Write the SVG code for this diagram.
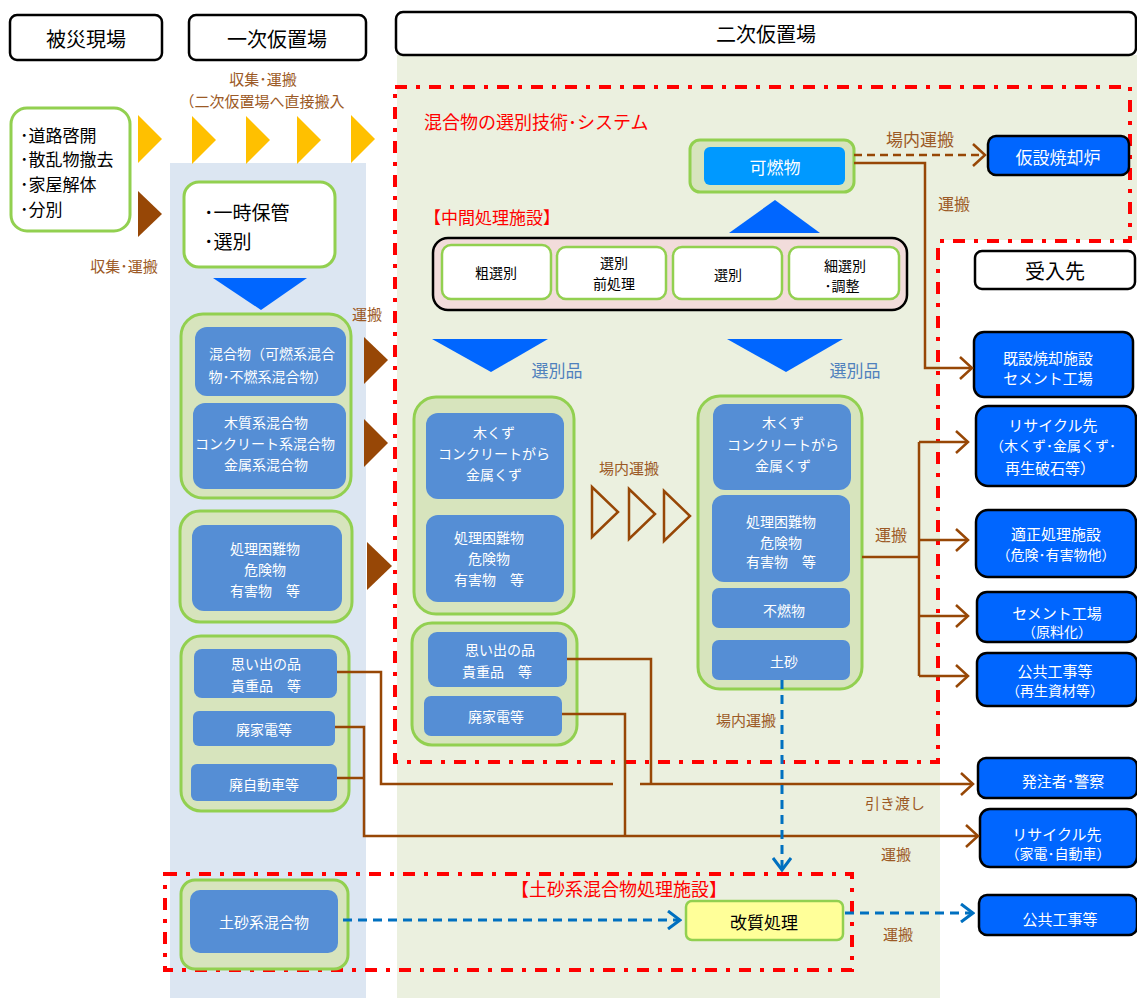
<svg xmlns="http://www.w3.org/2000/svg" width="1137" height="998" viewBox="0 0 1137 998">
<style>
text{font-family:"Noto Sans CJK JP","Noto Sans CJK SC",sans-serif;text-anchor:middle;dominant-baseline:central}
.hdr{fill:#fff;stroke:#000;stroke-width:2.5}
.grp{fill:#D7E4BD;stroke:#92D050;stroke-width:3}
.inb{fill:#558ED5}
.wt{fill:#fff;font-size:14px}
.rb{fill:#0066FF;stroke:#000;stroke-width:2.5}
.rt{fill:#fff;font-size:15px}
.br{stroke:#974706;stroke-width:2.5;fill:none}
.bt{fill:#9C5A26;font-size:15px}
.bd{stroke:#0070C0;stroke-width:3;fill:none;stroke-dasharray:9 6}
.red{stroke:#FF0000;stroke-width:4;fill:none;stroke-dasharray:12 9 4 9}
.sel{fill:#fff;stroke:#92D050;stroke-width:2.5}
.st{fill:#000;font-size:14px}
</style>
<defs>
<marker id="ab" viewBox="0 0 15 24" refX="13" refY="12" markerWidth="15" markerHeight="24" markerUnits="userSpaceOnUse" orient="auto"><path d="M1,1 L13,12 L1,23" fill="none" stroke="#974706" stroke-width="2.5"/></marker>
<marker id="abl" viewBox="0 0 15 20" refX="13" refY="10" markerWidth="15" markerHeight="20" markerUnits="userSpaceOnUse" orient="auto"><path d="M1,1 L13,10 L1,19" fill="none" stroke="#0070C0" stroke-width="3"/></marker>
</defs>
<rect width="1137" height="998" fill="#fff"/>
<!-- backgrounds -->
<rect x="170" y="163" width="196" height="835" fill="#DCE6F2"/>
<path d="M397,55 H1137 V240 H940 V998 H397 Z" fill="#EBF0DF"/>
<!-- headers -->
<g id="h1"><rect class="hdr" x="10" y="15" width="152" height="45" rx="7"/><text x="86" y="38" font-size="20">被災現場</text></g>
<g id="h2"><rect class="hdr" x="189" y="15" width="177" height="45" rx="7"/><text x="277" y="38" font-size="20">一次仮置場</text></g>
<g id="h3"><rect class="hdr" x="396" y="12" width="740" height="43" rx="7"/><text x="766" y="33" font-size="20">二次仮置場</text></g>
<g id="h4"><rect class="hdr" x="975" y="251" width="160" height="38" rx="7"/><text x="1055" y="270" font-size="20">受入先</text></g>
<!-- red frames -->
<path class="red" d="M395,87 H1130 V241 H938 V762 H395 Z"/>
<path class="red" d="M165,874 H852 V970 H165 Z"/>
<text x="424" y="121" font-size="18" fill="#FF0000" style="text-anchor:start">混合物の選別技術･システム</text>
<text x="424" y="216" font-size="17" fill="#FF0000" style="text-anchor:start">【中間処理施設】</text>
<text x="619" y="888" font-size="18" fill="#FF0000">【土砂系混合物処理施設】</text>
<!-- site box -->
<g id="site"><rect x="11" y="108" width="119" height="123" rx="16" fill="#fff" stroke="#92D050" stroke-width="3"/>
<g font-size="17"><text x="20" y="134" style="text-anchor:start">･道路啓開</text><text x="20" y="158" style="text-anchor:start">･散乱物撤去</text><text x="20" y="183" style="text-anchor:start">･家屋解体</text><text x="20" y="208" style="text-anchor:start">･分別</text></g></g>
<!-- triangles -->
<g fill="#FFC000"><path d="M138,115 L162,139 L138,163Z"/><path d="M192,116 L216,140 L192,164Z"/><path d="M246,116 L270,140 L246,164Z"/><path d="M297,116 L321,140 L297,164Z"/><path d="M351,115 L375,139 L351,163Z"/></g>
<g fill="#974706"><path d="M138,191 L162,214 L138,237Z"/><path d="M364,337 L388,360 L364,384Z"/><path d="M364,419 L388,443 L364,467Z"/><path d="M367,542 L392,566 L367,590Z"/></g>
<g fill="#0066FF"><path d="M213,278 L307,278 L261,310Z"/><path d="M729,233 L820,233 L775,200Z"/><path d="M432,339 L548,339 L491,372Z"/><path d="M727,339 L843,339 L786,372Z"/></g>
<g fill="none" stroke="#974706" stroke-width="2.5"><path d="M592,487 L618,512 L592,537Z"/><path d="M629,489 L655,514 L629,539Z"/><path d="M664,491 L690,516 L664,541Z"/></g>
<!-- brown labels -->
<text class="bt" x="263" y="78">収集･運搬</text>
<text class="bt" x="262" y="100">（二次仮置場へ直接搬入</text>
<text class="bt" x="124" y="265">収集･運搬</text>
<text class="bt" x="367" y="313">運搬</text>
<text class="bt" x="629" y="467" font-size="16">場内運搬</text>
<text class="bt" x="920" y="138" style="font-size:17px">場内運搬</text>
<text class="bt" x="954" y="203" style="font-size:16px">運搬</text>
<text class="bt" x="891" y="534" style="font-size:16px">運搬</text>
<text class="bt" x="746" y="719" style="font-size:15px">場内運搬</text>
<text class="bt" x="895" y="802">引き渡し</text>
<text class="bt" x="896" y="853">運搬</text>
<text class="bt" x="898" y="933">運搬</text>
<text x="557" y="369" font-size="17" fill="#4F81BD">選別品</text>
<text x="855" y="369" font-size="17" fill="#4F81BD">選別品</text>
<!-- primary nodes -->
<g id="tmp"><rect x="184" y="182" width="151" height="85" rx="15" fill="#fff" stroke="#92D050" stroke-width="3"/><text x="204" y="211" font-size="19" style="text-anchor:start">･一時保管</text><text x="204" y="240" font-size="19" style="text-anchor:start">･選別</text></g>
<g id="p1"><rect class="grp" x="181" y="314" width="170" height="184" rx="22"/>
<rect class="inb" x="195" y="327" width="151" height="69" rx="12"/><text class="wt" x="272" y="353">混合物（可燃系混合</text><text class="wt" x="268" y="376">物･不燃系混合物）</text>
<rect class="inb" x="193" y="403" width="153" height="86" rx="12"/><text class="wt" x="266" y="422">木質系混合物</text><text class="wt" x="265" y="443">コンクリート系混合物</text><text class="wt" x="266" y="464">金属系混合物</text></g>
<g id="p2"><rect class="grp" x="180" y="511" width="172" height="111" rx="20"/><rect class="inb" x="192" y="525" width="150" height="86" rx="12"/><text class="wt" x="265" y="548">処理困難物</text><text class="wt" x="265" y="569">危険物</text><text class="wt" x="265" y="590">有害物　等</text></g>
<g id="p3"><rect class="grp" x="181" y="636" width="168" height="175" rx="20"/>
<rect class="inb" x="194" y="649" width="143" height="49" rx="8"/><text class="wt" x="266" y="663">思い出の品</text><text class="wt" x="266" y="685">貴重品　等</text>
<rect class="inb" x="193" y="711" width="142" height="35" rx="6"/><text class="wt" x="264" y="729">廃家電等</text>
<rect class="inb" x="191" y="764" width="146" height="37" rx="6"/><text class="wt" x="264" y="784">廃自動車等</text></g>
<g id="p4"><rect class="grp" x="181" y="880" width="167" height="89" rx="14"/><rect class="inb" x="190" y="890" width="148" height="63" rx="10"/><text class="wt" x="264" y="921" style="font-size:15px">土砂系混合物</text></g>
<!-- secondary nodes -->
<g id="kane"><rect class="grp" x="690" y="140" width="164" height="52" rx="10"/><rect x="704" y="147" width="141" height="38" rx="6" fill="#0099FF"/><text x="775" y="166" font-size="17" fill="#fff">可燃物</text></g>
<g id="mid"><rect x="433" y="238" width="474" height="72" rx="15" fill="#F2DCDB" stroke="#000" stroke-width="2.5"/>
<rect class="sel" x="442" y="245" width="109" height="54" rx="9"/><text class="st" x="496" y="272">粗選別</text>
<rect class="sel" x="557" y="247" width="109" height="52" rx="9"/><text class="st" x="614" y="262">選別</text><text class="st" x="614" y="283">前処理</text>
<rect class="sel" x="673" y="247" width="109" height="52" rx="9"/><text class="st" x="728" y="274">選別</text>
<rect class="sel" x="789" y="247" width="110" height="52" rx="9"/><text class="st" x="845" y="265">細選別</text><text class="st" x="842" y="285">･調整</text></g>
<g id="s1"><rect class="grp" x="414" y="397" width="160" height="217" rx="22"/>
<rect class="inb" x="426" y="413" width="138" height="86" rx="12"/><text class="wt" x="494" y="432">木くず</text><text class="wt" x="494" y="453">コンクリートがら</text><text class="wt" x="494" y="474">金属くず</text>
<rect class="inb" x="426" y="515" width="138" height="87" rx="12"/><text class="wt" x="489" y="537">処理困難物</text><text class="wt" x="489" y="558">危険物</text><text class="wt" x="489" y="579">有害物　等</text></g>
<g id="s2"><rect class="grp" x="412" y="623" width="165" height="122" rx="20"/>
<rect class="inb" x="428" y="632" width="139" height="55" rx="9"/><text class="wt" x="500" y="649">思い出の品</text><text class="wt" x="497" y="671">貴重品　等</text>
<rect class="inb" x="424" y="696" width="138" height="40" rx="7"/><text class="wt" x="496" y="716">廃家電等</text></g>
<g id="s3"><rect class="grp" x="698" y="396" width="164" height="293" rx="22"/>
<rect class="inb" x="713" y="404" width="138" height="86" rx="12"/><text class="wt" x="783" y="422">木くず</text><text class="wt" x="783" y="444">コンクリートがら</text><text class="wt" x="783" y="465">金属くず</text>
<rect class="inb" x="712" y="495" width="138" height="87" rx="12"/><text class="wt" x="781" y="521">処理困難物</text><text class="wt" x="781" y="542">危険物</text><text class="wt" x="781" y="561">有害物　等</text>
<rect class="inb" x="712" y="588" width="138" height="40" rx="7"/><text class="wt" x="784" y="610">不燃物</text>
<rect class="inb" x="712" y="640" width="138" height="40" rx="7"/><text class="wt" x="784" y="661">土砂</text></g>
<g id="kaishitsu"><rect x="686" y="901" width="157" height="39" rx="6" fill="#FFFF99" stroke="#92D050" stroke-width="2.5"/><text x="764" y="921" font-size="17">改質処理</text></g>
<!-- receivers -->
<g id="r1"><rect class="rb" x="988" y="136" width="141" height="39" rx="8"/><text class="rt" x="1058" y="156" style="font-size:17px">仮設焼却炉</text></g>
<g id="r2"><rect class="rb" x="974" y="332" width="159" height="65" rx="10"/><text class="rt" x="1048" y="357">既設焼却施設</text><text class="rt" x="1048" y="377">セメント工場</text></g>
<g id="r3"><rect class="rb" x="976" y="406" width="160" height="80" rx="12"/><text class="rt" x="1053" y="424">リサイクル先</text><text class="rt" x="1053" y="445" style="font-size:14px">（木くず･金属くず･</text><text class="rt" x="1050" y="467">再生破石等）</text></g>
<g id="r4"><rect class="rb" x="976" y="510" width="160" height="67" rx="12"/><text class="rt" x="1056" y="533">適正処理施設</text><text class="rt" x="1056" y="554" style="font-size:14px">（危険･有害物他）</text></g>
<g id="r5"><rect class="rb" x="977" y="592" width="160" height="50" rx="10"/><text class="rt" x="1057" y="612">セメント工場</text><text class="rt" x="1057" y="631" style="font-size:14px">（原料化）</text></g>
<g id="r6"><rect class="rb" x="977" y="653" width="160" height="53" rx="10"/><text class="rt" x="1055" y="670">公共工事等</text><text class="rt" x="1055" y="690" style="font-size:14px">（再生資材等）</text></g>
<g id="r7"><rect class="rb" x="978" y="758" width="159" height="40" rx="8"/><text class="rt" x="1063" y="780">発注者･警察</text></g>
<g id="r8"><rect class="rb" x="980" y="809" width="157" height="58" rx="10"/><text class="rt" x="1057" y="833">リサイクル先</text><text class="rt" x="1058" y="853" style="font-size:14px">（家電･自動車）</text></g>
<g id="r9"><rect class="rb" x="979" y="895" width="158" height="40" rx="8"/><text class="rt" x="1060" y="918">公共工事等</text></g>
<!-- connectors -->
<g id="connectors">
<path class="br" d="M854,155 H985" stroke-dasharray="8 5" marker-end="url(#ab)"/>
<path class="br" d="M854,163 H925 V368 H972" marker-end="url(#ab)"/>
<path class="br" d="M862,557 H919"/>
<path class="br" d="M919,442 V676"/>
<path class="br" d="M919,442 H968" marker-end="url(#ab)"/>
<path class="br" d="M919,540 H968" marker-end="url(#ab)"/>
<path class="br" d="M919,616 H968" marker-end="url(#ab)"/>
<path class="br" d="M919,676 H968" marker-end="url(#ab)"/>
<path class="br" d="M337,672 H381 V784 H613"/>
<path class="br" d="M640,784 H973" marker-end="url(#ab)"/>
<path class="br" d="M567,659 H651 V784"/>
<path class="br" d="M335,727 H364 V836 H978" marker-end="url(#ab)"/>
<path class="br" d="M337,778 H364"/>
<path class="br" d="M562,714 H625 V836"/>
<path class="bd" d="M782,680 V870" marker-end="url(#abl)"/>
<path class="bd" d="M343,920 H680" marker-end="url(#abl)"/>
<path class="bd" d="M845,913 H973" marker-end="url(#abl)"/>
</g>
</svg>
